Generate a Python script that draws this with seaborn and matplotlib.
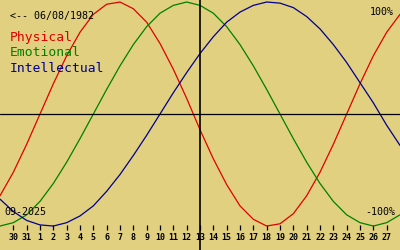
import matplotlib
matplotlib.use("Agg")
import matplotlib.pyplot as plt
import seaborn as sns
import pandas as pd

# ---- data ----
day_labels = [30, 31] + list(range(1, 28))          # tick labels, Aug 30 .. Sep 27
day_index = list(range(0, 31))                       # Aug 29 .. Sep 28
physical = [-0.73, -0.52, -0.27, 0.00, 0.27, 0.52, 0.73, 0.89, 0.98, 1.00,
            0.94, 0.82, 0.63, 0.40, 0.14, -0.14, -0.40, -0.63, -0.82, -0.94,
            -1.00, -0.98, -0.89, -0.73, -0.52, -0.27, 0.00, 0.27, 0.52, 0.73, 0.89]
emotional = [-1.00, -0.97, -0.90, -0.78, -0.62, -0.43, -0.22, 0.00, 0.22, 0.43,
             0.62, 0.78, 0.90, 0.97, 1.00, 0.97, 0.90, 0.78, 0.62, 0.43,
             0.22, 0.00, -0.22, -0.43, -0.62, -0.78, -0.90, -0.97, -1.00, -0.97, -0.90]
intellectual = [-0.76, -0.87, -0.95, -0.99, -1.00, -0.97, -0.91, -0.82, -0.69, -0.54,
                -0.37, -0.19, 0.00, 0.19, 0.37, 0.54, 0.69, 0.82, 0.91, 0.97,
                1.00, 0.99, 0.95, 0.87, 0.76, 0.62, 0.46, 0.28, 0.10, -0.10, -0.28]
series_names = ["Physical", "Emotional", "Intellectual"]
today_index = 15
birth_text = "<-- 06/08/1982"
month_text = "09-2025"

rows = []
for name, vals in zip(series_names, [physical, emotional, intellectual]):
    for i, v in zip(day_index, vals):
        rows.append({"day": i, "value": v, "cycle": name})
df = pd.DataFrame(rows)

sns.set_theme(style="white")
plt.rcParams["font.family"] = ["DejaVu Sans Mono", "DejaVu Sans"]

bg = "#E0D080"
colors = {"Physical": "#E00000", "Emotional": "#008000", "Intellectual": "#000090"}

fig = plt.figure(figsize=(4, 2.5), dpi=100)
fig.patch.set_facecolor(bg)
ax = fig.add_axes([0, 0, 1, 1])
ax.set_facecolor(bg)

sns.lineplot(data=df, x="day", y="value", hue="cycle", palette=colors,
             hue_order=series_names, legend=False, ax=ax, linewidth=0.9)

ax.axhline(0, color="black", lw=0.9)
ax.axvline(today_index, color="black", lw=1.2)

ax.set_xlim(0, 30)
ax.set_ylim(-1.214, 1.018)
for s in ax.spines.values():
    s.set_visible(False)
ax.spines["bottom"].set_position(("data", -0.991))
ax.set_yticks([])
ax.set_xticks(list(range(1, len(day_labels) + 1)))
ax.set_xticklabels([str(d) for d in day_labels], fontweight="bold")
ax.tick_params(axis="x", direction="out", length=3.6, width=0.9, color="black",
               pad=1.8, labelsize=6, bottom=True, labelcolor="black")
ax.set_xlabel("")
ax.set_ylabel("")

def px(x, y):
    return x / 400, 1 - y / 250

fs = 7.2
fig.text(*px(10, 16), birth_text, fontsize=fs, color="black", va="center", ha="left")
fig.text(*px(10, 38), "Physical", fontsize=9.4, color=colors["Physical"], va="center", ha="left")
fig.text(*px(10, 53), "Emotional", fontsize=9.4, color=colors["Emotional"], va="center", ha="left")
fig.text(*px(10, 68), "Intellectual", fontsize=9.4, color=colors["Intellectual"], va="center", ha="left")
fig.text(*px(394, 12), "100%", fontsize=fs, color="black", va="center", ha="right")
fig.text(*px(395, 212), "-100%", fontsize=fs, color="black", va="center", ha="right")
fig.text(*px(4, 212), month_text, fontsize=fs, color="black", va="center", ha="left")

fig.savefig("out.png", dpi=100, facecolor=bg)
